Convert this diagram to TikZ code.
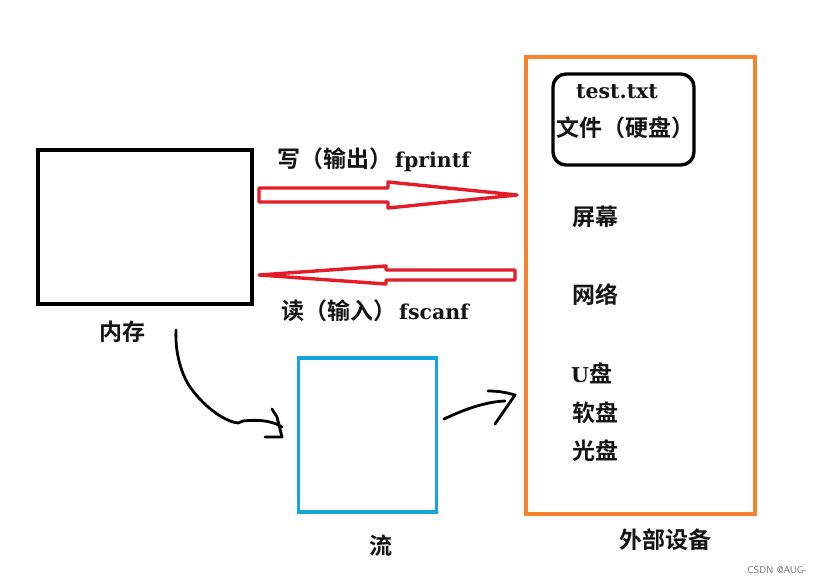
\documentclass[tikz,border=0pt]{standalone}
\usepackage{fontspec}
\setmainfont{Liberation Serif}
\newfontfamily\cjk{Noto Sans CJK SC}[BoldFont={Noto Sans CJK SC Bold}]
\newfontfamily\latn{DejaVu Serif}[BoldFont={DejaVu Serif Bold}]
\newcommand{\lt}{\fontsize{20.5pt}{22pt}\selectfont\bfseries\latn}
\newcommand{\cj}{\fontsize{23pt}{26pt}\selectfont\bfseries\cjk}
\definecolor{redarrow}{RGB}{227,28,40}
\definecolor{bluebox}{RGB}{20,165,225}
\definecolor{orangebox}{RGB}{250,130,45}
\tikzset{
  lab/.style={inner sep=0pt,font=\cj,text=black!92},
  ltn/.style={inner sep=0pt,font=\lt,text=black!92},
  boxk/.style={draw=black,line width=3.4pt,inner sep=0pt,outer sep=0pt,anchor=north west},
  blockarrow/.style={draw=redarrow,line width=3.4pt,fill=white,line join=round},
  hand/.style={draw=black,line width=2.8pt,line cap=round,line join=round}
}
\begin{document}
\begin{tikzpicture}[x=1pt,y=-1pt]
\useasboundingbox (0,0) rectangle (822,583);
\node[boxk,minimum width=214pt,minimum height=154pt] (mem) at (38,150) {};
\node[boxk,draw=bluebox,line width=3.8pt,minimum width=138pt,minimum height=154pt] (stream) at (298.5,358) {};
\node[boxk,draw=orangebox,line width=4pt,minimum width=229pt,minimum height=457pt] (ext) at (526,57) {};
\node[boxk,rounded corners=13pt,minimum width=141pt,minimum height=91pt] (file) at (553,74) {};
% block arrows
\coordinate (wtail) at (259,195);
\coordinate (wtip) at (517,195);
\coordinate (rtail) at (515,275);
\coordinate (rtip) at (259,275);
\draw[blockarrow] (259,188) -- (388,188) -- (388,182) -- (wtip) -- (388,208) -- (388,202) -- (259,202) -- cycle;
\draw[blockarrow] (rtail |- 0,270) -- (386,270) -- (386,266) -- (rtip) -- (386,284) -- (386,280) -- (rtail |- 0,280) -- cycle;
% hand-drawn arrows
\coordinate (c1s) at (176,330);
\coordinate (c1e) at (282,427);
\coordinate (c2s) at (444,419);
\coordinate (c2e) at (515,395);
\draw[hand] (c1s) .. controls (175,350) and (180,372) .. (190,387) .. controls (202,404) and (222,421) .. (238,423) -- (243,421) .. controls (252,420) and (270,419) .. (c1e);
\draw[hand] (272,409) -- (277,417) -- (282,437) -- (265,437);
\draw[hand] (c2s) .. controls (455,414) and (480,402) .. (505,401);
\draw[hand] (488,391) .. controls (497,391) and (505,392) .. (c2e) -- (495,424);
% labels
\node[lab,anchor=west] (t1) at (277,160) {写（输出）\hspace{3pt}\lt fprintf};
\node[lab,anchor=west] (t2) at (281,311) {读（输入）\hspace{3pt}\lt fscanf};
\node[lab] (t3) at (122,332) {内存};
\node[lab] (t4) at (381,546) {流};
\node[lab] (t5) at (665,540) {外部设备};
\node[ltn] (t6) at (617,92) {test.txt};
\node[lab] (t7) at (625,128) {文件（硬盘）};
\node[lab,anchor=west] (t8) at (572,217) {屏幕};
\node[lab,anchor=west] (t9) at (572,295) {网络};
\node[lab,anchor=west] (t10) at (571,373) {\lt U\cj 盘};
\node[lab,anchor=west] (t11) at (572,413) {软盘};
\node[lab,anchor=west] (t12) at (572,451) {光盘};
\node[inner sep=0pt,anchor=east,font=\fontsize{10pt}{12pt}\selectfont\sffamily,text=black!55] (t13) at (807,570) {CSDN @AUG-};
\end{tikzpicture}
\end{document}
